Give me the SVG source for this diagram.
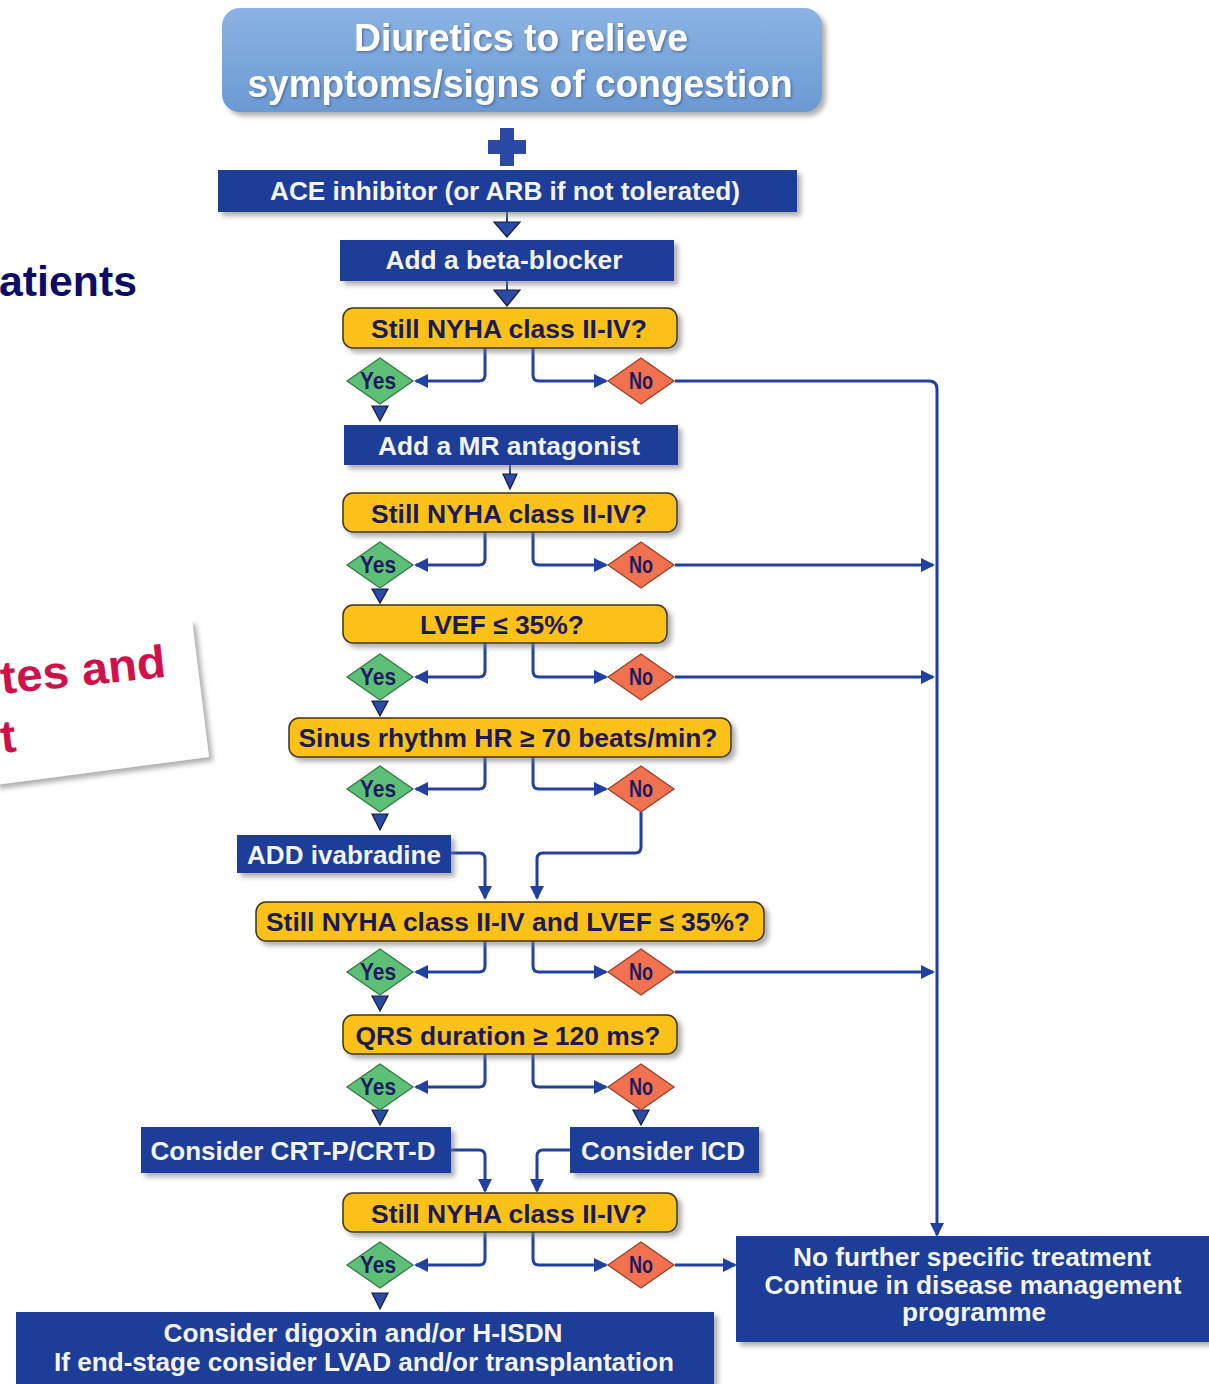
<svg xmlns="http://www.w3.org/2000/svg" width="1209" height="1384" viewBox="0 0 1209 1384">
<defs>
<filter id="sh" x="-10%" y="-20%" width="130%" height="160%">
<feDropShadow dx="4" dy="4" stdDeviation="2.5" flood-color="#7a7a7a" flood-opacity="0.6"/>
</filter>
<filter id="ts" x="-5%" y="-20%" width="110%" height="150%">
<feDropShadow dx="1.5" dy="1.5" stdDeviation="0.8" flood-color="#4a5a80" flood-opacity="0.7"/>
</filter>
<linearGradient id="tg" x1="0" y1="0" x2="0" y2="1">
<stop offset="0" stop-color="#8ab3e3"/>
<stop offset="1" stop-color="#6a9ad3"/>
</linearGradient>
<marker id="ah" markerUnits="userSpaceOnUse" markerWidth="16" markerHeight="16" refX="12" refY="7" orient="auto">
<path d="M0,0 L14,7 L0,14 Z" fill="#2141a0"/>
</marker>
<style>
.box{fill:#1b3c98;filter:url(#sh)}
.dec{fill:#fcc116;stroke:#3d3418;stroke-width:1.5;filter:url(#sh)}
.bt{font-family:"Liberation Sans",Arial,sans-serif;font-weight:bold;fill:#f4f4f8;font-size:25px;text-anchor:middle}
.dt{font-family:"Liberation Sans",Arial,sans-serif;font-weight:bold;fill:#1c1a55;font-size:26px;text-anchor:middle}
.yes{fill:#5ec077;stroke:#2f7a45;stroke-width:1.3}
.no{fill:#f2714f;stroke:#9a4028;stroke-width:1.3}
.yn{font-family:"Liberation Sans",Arial,sans-serif;font-weight:bold;fill:#1c1a60;font-size:23px;text-anchor:middle}
.c{fill:none;stroke:#2141a0;stroke-width:3}
.tri{fill:#2a4aa8;stroke:#111a40;stroke-width:1.2}
.stem{stroke:#2141a0;stroke-width:2}
</style>
</defs>

<!-- side fragments -->
<g id="side-title">
<text x="-1" y="296" font-family="'Liberation Sans',Arial,sans-serif" font-weight="bold" font-size="43" fill="#0b0b66" textLength="138" lengthAdjust="spacingAndGlyphs">atients</text>
</g>
<g id="side-card">
<polygon points="-20,645 192,620 209,757 -5,785" fill="#ffffff" filter="url(#sh)"/>
<text transform="translate(2,694) rotate(-6)" font-family="'Liberation Sans',Arial,sans-serif" font-weight="bold" font-size="46" fill="#d0104a" textLength="166" lengthAdjust="spacingAndGlyphs">tes and</text>
<text transform="translate(2,753) rotate(-6)" font-family="'Liberation Sans',Arial,sans-serif" font-weight="bold" font-size="46" fill="#d0104a">t</text>
</g>

<!-- connectors -->
<g id="connectors">
<line class="stem" x1="507" y1="212" x2="507" y2="224"/>
<polygon class="tri" points="494,222 520,222 507,237"/>
<line class="stem" x1="507" y1="281" x2="507" y2="291"/>
<polygon class="tri" points="494,290 520,290 507,306"/>
<line class="stem" x1="510" y1="465" x2="510" y2="475"/>
<polygon class="tri" points="503,474 517,474 510,489"/>
<polygon class="tri" points="372,406 388,406 380,421"/>
<polygon class="tri" points="372,589 388,589 380,603"/>
<polygon class="tri" points="372,701 388,701 380,716"/>
<polygon class="tri" points="372,814 388,814 380,830"/>
<polygon class="tri" points="372,996 388,996 380,1011"/>
<polygon class="tri" points="372,1110 388,1110 380,1125"/>
<polygon class="tri" points="633,1110 649,1110 641,1125"/>
<polygon class="tri" points="372,1293 388,1293 380,1309"/>

<path class="c" d="M485,348 V375 Q485,381 479,381 H416" marker-end="url(#ah)"/>
<path class="c" d="M533,348 V375 Q533,381 539,381 H606" marker-end="url(#ah)"/>
<path class="c" d="M485,532 V559 Q485,565 479,565 H416" marker-end="url(#ah)"/>
<path class="c" d="M533,532 V559 Q533,565 539,565 H606" marker-end="url(#ah)"/>
<path class="c" d="M485,643 V671 Q485,677 479,677 H416" marker-end="url(#ah)"/>
<path class="c" d="M533,643 V671 Q533,677 539,677 H606" marker-end="url(#ah)"/>
<path class="c" d="M485,757 V783 Q485,789 479,789 H416" marker-end="url(#ah)"/>
<path class="c" d="M533,757 V783 Q533,789 539,789 H606" marker-end="url(#ah)"/>
<path class="c" d="M485,941 V966 Q485,972 479,972 H416" marker-end="url(#ah)"/>
<path class="c" d="M533,941 V966 Q533,972 539,972 H606" marker-end="url(#ah)"/>
<path class="c" d="M485,1054 V1081 Q485,1087 479,1087 H416" marker-end="url(#ah)"/>
<path class="c" d="M533,1054 V1081 Q533,1087 539,1087 H606" marker-end="url(#ah)"/>
<path class="c" d="M485,1232 V1259 Q485,1265 479,1265 H416" marker-end="url(#ah)"/>
<path class="c" d="M533,1232 V1259 Q533,1265 539,1265 H606" marker-end="url(#ah)"/>

<path class="c" d="M675,381 H929 Q937,381 937,389 V1235" marker-end="url(#ah)"/>
<path class="c" d="M675,565 H933" marker-end="url(#ah)"/>
<path class="c" d="M675,677 H933" marker-end="url(#ah)"/>
<path class="c" d="M675,972 H933" marker-end="url(#ah)"/>
<path class="c" d="M675,1265 H735" marker-end="url(#ah)"/>

<path class="c" d="M641,812 V847 Q641,853 635,853 H543 Q537,853 537,859 V898" marker-end="url(#ah)"/>
<path class="c" d="M451,853 H479 Q485,853 485,859 V898" marker-end="url(#ah)"/>
<path class="c" d="M451,1150 H479 Q485,1150 485,1156 V1191" marker-end="url(#ah)"/>
<path class="c" d="M570,1150 H543 Q537,1150 537,1156 V1191" marker-end="url(#ah)"/>
</g>

<!-- nodes -->
<g id="n-diuretics">
<rect x="222" y="8" width="600" height="104" rx="18" fill="url(#tg)" filter="url(#sh)"/>
<text x="521" y="51" font-family="'Liberation Sans',Arial,sans-serif" font-weight="bold" font-size="38" fill="#ffffff" text-anchor="middle" textLength="334" lengthAdjust="spacingAndGlyphs" filter="url(#ts)">Diuretics to relieve</text>
<text x="520" y="97" font-family="'Liberation Sans',Arial,sans-serif" font-weight="bold" font-size="38" fill="#ffffff" text-anchor="middle" textLength="545" lengthAdjust="spacingAndGlyphs" filter="url(#ts)">symptoms/signs of congestion</text>
</g>
<g id="n-plus">
<rect x="500" y="128" width="14" height="38" fill="#2b4aa6"/>
<rect x="488" y="140" width="38" height="14" fill="#2b4aa6"/>
</g>
<g id="n-ace">
<rect class="box" x="218" y="170" width="579" height="42"/>
<text class="bt" x="505" y="200" textLength="470" lengthAdjust="spacingAndGlyphs">ACE inhibitor (or ARB if not tolerated)</text>
</g>
<g id="n-beta">
<rect class="box" x="340" y="240" width="334" height="41"/>
<text class="bt" x="504" y="269" textLength="237" lengthAdjust="spacingAndGlyphs">Add a beta-blocker</text>
</g>
<g id="n-q1">
<rect class="dec" x="343" y="308" width="334" height="40" rx="10"/>
<text class="dt" x="509" y="338" textLength="276" lengthAdjust="spacingAndGlyphs">Still NYHA class II-IV?</text>
</g>
<g id="n-yes1"><polygon class="yes" points="347,381 380,358 413,381 380,404"/><text class="yn" x="378" y="389" textLength="36" lengthAdjust="spacingAndGlyphs">Yes</text></g>
<g id="n-no1"><polygon class="no" points="608,381 641,358 674,381 641,404"/><text class="yn" x="641" y="389" font-size="19" textLength="24" lengthAdjust="spacingAndGlyphs">No</text></g>
<g id="n-mr">
<rect class="box" x="344" y="425" width="334" height="40"/>
<text class="bt" x="509" y="455" textLength="262" lengthAdjust="spacingAndGlyphs">Add a MR antagonist</text>
</g>
<g id="n-q2">
<rect class="dec" x="343" y="493" width="334" height="39" rx="10"/>
<text class="dt" x="509" y="523" textLength="276" lengthAdjust="spacingAndGlyphs">Still NYHA class II-IV?</text>
</g>
<g id="n-yes2"><polygon class="yes" points="347,565 380,542 413,565 380,588"/><text class="yn" x="378" y="573" textLength="36" lengthAdjust="spacingAndGlyphs">Yes</text></g>
<g id="n-no2"><polygon class="no" points="608,565 641,542 674,565 641,588"/><text class="yn" x="641" y="573" font-size="19" textLength="24" lengthAdjust="spacingAndGlyphs">No</text></g>
<g id="n-q3">
<rect class="dec" x="343" y="605" width="324" height="38" rx="10"/>
<text class="dt" x="502" y="634" textLength="164" lengthAdjust="spacingAndGlyphs">LVEF ≤ 35%?</text>
</g>
<g id="n-yes3"><polygon class="yes" points="347,677 380,654 413,677 380,700"/><text class="yn" x="378" y="685" textLength="36" lengthAdjust="spacingAndGlyphs">Yes</text></g>
<g id="n-no3"><polygon class="no" points="608,677 641,654 674,677 641,700"/><text class="yn" x="641" y="685" font-size="19" textLength="24" lengthAdjust="spacingAndGlyphs">No</text></g>
<g id="n-q4">
<rect class="dec" x="289" y="718" width="442" height="39" rx="10"/>
<text class="dt" x="508" y="747" textLength="419" lengthAdjust="spacingAndGlyphs">Sinus rhythm HR ≥ 70 beats/min?</text>
</g>
<g id="n-yes4"><polygon class="yes" points="347,789 380,766 413,789 380,812"/><text class="yn" x="378" y="797" textLength="36" lengthAdjust="spacingAndGlyphs">Yes</text></g>
<g id="n-no4"><polygon class="no" points="608,789 641,766 674,789 641,812"/><text class="yn" x="641" y="797" font-size="19" textLength="24" lengthAdjust="spacingAndGlyphs">No</text></g>
<g id="n-ivab">
<rect class="box" x="237" y="835" width="214" height="38"/>
<text class="bt" x="344" y="864" textLength="194" lengthAdjust="spacingAndGlyphs">ADD ivabradine</text>
</g>
<g id="n-q5">
<rect class="dec" x="256" y="902" width="508" height="39" rx="10"/>
<text class="dt" x="508" y="931" textLength="484" lengthAdjust="spacingAndGlyphs">Still NYHA class II-IV and LVEF ≤ 35%?</text>
</g>
<g id="n-yes5"><polygon class="yes" points="347,972 380,949 413,972 380,995"/><text class="yn" x="378" y="980" textLength="36" lengthAdjust="spacingAndGlyphs">Yes</text></g>
<g id="n-no5"><polygon class="no" points="608,972 641,949 674,972 641,995"/><text class="yn" x="641" y="980" font-size="19" textLength="24" lengthAdjust="spacingAndGlyphs">No</text></g>
<g id="n-q6">
<rect class="dec" x="343" y="1015" width="334" height="39" rx="10"/>
<text class="dt" x="508" y="1045" textLength="305" lengthAdjust="spacingAndGlyphs">QRS duration ≥ 120 ms?</text>
</g>
<g id="n-yes6"><polygon class="yes" points="347,1087 380,1064 413,1087 380,1110"/><text class="yn" x="378" y="1095" textLength="36" lengthAdjust="spacingAndGlyphs">Yes</text></g>
<g id="n-no6"><polygon class="no" points="608,1087 641,1064 674,1087 641,1110"/><text class="yn" x="641" y="1095" font-size="19" textLength="24" lengthAdjust="spacingAndGlyphs">No</text></g>
<g id="n-crt">
<rect class="box" x="141" y="1127" width="310" height="46"/>
<text class="bt" x="293" y="1160" textLength="285" lengthAdjust="spacingAndGlyphs">Consider CRT-P/CRT-D</text>
</g>
<g id="n-icd">
<rect class="box" x="570" y="1127" width="189" height="46"/>
<text class="bt" x="663" y="1160" textLength="164" lengthAdjust="spacingAndGlyphs">Consider ICD</text>
</g>
<g id="n-q7">
<rect class="dec" x="343" y="1193" width="334" height="39" rx="10"/>
<text class="dt" x="509" y="1223" textLength="276" lengthAdjust="spacingAndGlyphs">Still NYHA class II-IV?</text>
</g>
<g id="n-yes7"><polygon class="yes" points="347,1265 380,1242 413,1265 380,1288"/><text class="yn" x="378" y="1273" textLength="36" lengthAdjust="spacingAndGlyphs">Yes</text></g>
<g id="n-no7"><polygon class="no" points="608,1265 641,1242 674,1265 641,1288"/><text class="yn" x="641" y="1273" font-size="19" textLength="24" lengthAdjust="spacingAndGlyphs">No</text></g>
<g id="n-digoxin">
<rect class="box" x="16" y="1312" width="698" height="80"/>
<text class="bt" x="363" y="1342" textLength="399" lengthAdjust="spacingAndGlyphs">Consider digoxin and/or H-ISDN</text>
<text class="bt" x="364" y="1371" textLength="620" lengthAdjust="spacingAndGlyphs">If end-stage consider LVAD and/or transplantation</text>
</g>
<g id="n-nofurther">
<rect class="box" x="736" y="1236" width="480" height="106"/>
<text class="bt" x="972" y="1266" textLength="358" lengthAdjust="spacingAndGlyphs">No further specific treatment</text>
<text class="bt" x="973" y="1294" textLength="417" lengthAdjust="spacingAndGlyphs">Continue in disease management</text>
<text class="bt" x="974" y="1321" textLength="144" lengthAdjust="spacingAndGlyphs">programme</text>
</g>
</svg>
